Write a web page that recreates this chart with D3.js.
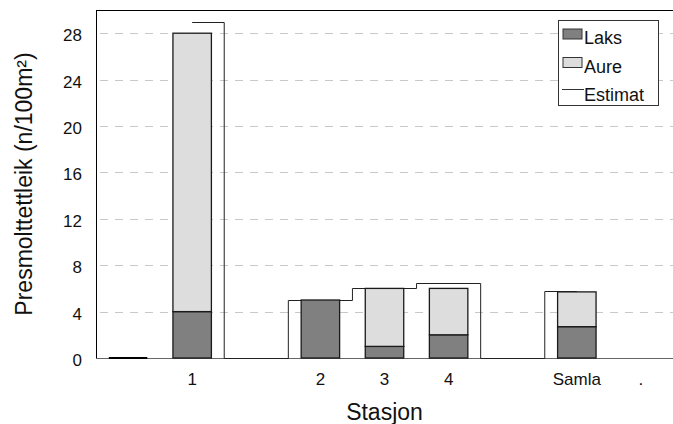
<!DOCTYPE html>
<html>
<head>
<meta charset="utf-8">
<script src="https://cdn.jsdelivr.net/npm/d3@7"></script>
<style>
  body { margin: 0; background: #fff; }
  svg { display: block; font-family: "Liberation Sans", Arial, sans-serif; }
</style>
</head>
<body>
<svg id="chart"></svg>
<script>
const WIDTH = 673;
const HEIGHT = 424;
const LEFT = 96, TOP = 10, RIGHT = 673, BOTTOM = 358;

// chart values
const stations = ["", "1", "", "2", "3", "4", "", "Samla", "."];
const laks     = [0, 4, null, 5, 1, 2, null, 2.7, null];
const aure     = [0, 24, null, 0, 5, 4, null, 3.0, null];
const estimat  = [null, 29, 0, 5, 6, 6.5, 0, 5.8, null];
const yTicks   = [0, 4, 8, 12, 16, 20, 24, 28];

const svg = d3.select("#chart")
    .attr("width", WIDTH)
    .attr("height", HEIGHT);

const x = d3.scaleBand()
    .domain(d3.range(stations.length))
    .range([LEFT, RIGHT])
    .padding(0);

const y = d3.scaleLinear()
    .domain([0, 30])
    .range([BOTTOM, TOP]);

// dashed gridlines
svg.append("g")
    .selectAll("line")
    .data(yTicks.slice(1))
    .enter()
    .append("line")
    .attr("x1", LEFT)
    .attr("x2", RIGHT)
    .attr("y1", d => Math.round(y(d)) + 0.5)
    .attr("y2", d => Math.round(y(d)) + 0.5)
    .attr("stroke", "#c8c8c8")
    .attr("stroke-dasharray", "8,7")
    .attr("stroke-dashoffset", -4);

// frame: left, top and baseline
svg.append("line")
    .attr("x1", LEFT + 0.5).attr("x2", LEFT + 0.5)
    .attr("y1", TOP).attr("y2", BOTTOM)
    .attr("stroke", "#000");
svg.append("line")
    .attr("x1", LEFT).attr("x2", RIGHT)
    .attr("y1", TOP + 0.5).attr("y2", TOP + 0.5)
    .attr("stroke", "#000");
svg.append("line")
    .attr("x1", LEFT).attr("x2", RIGHT)
    .attr("y1", BOTTOM + 0.5).attr("y2", BOTTOM + 0.5)
    .attr("stroke", "#666");

// estimate line, stepped between category centres
const estLine = d3.line()
    .defined(d => d.v !== null)
    .x(d => x(d.i) + x.bandwidth() / 2)
    .y(d => Math.round(y(d.v)) + 0.5)
    .curve(d3.curveStep);

svg.append("path")
    .datum(estimat.map((v, i) => ({i: i, v: v})))
    .attr("d", estLine)
    .attr("fill", "none")
    .attr("stroke", "#222")
    .attr("stroke-width", 1);

// stacked bars
const barW = x.bandwidth() * 0.6;
const bars = svg.append("g");
stations.forEach(function(s, i) {
    if (laks[i] === null) return;
    const bx = x(i) + (x.bandwidth() - barW) / 2;
    if (laks[i] + aure[i] === 0) {
        // zero-height bar shows as its outline
        bars.append("line")
            .attr("x1", bx).attr("x2", bx + barW)
            .attr("y1", y(0)).attr("y2", y(0))
            .attr("stroke", "#000")
            .attr("stroke-width", 2.2);
        return;
    }
    bars.append("rect")
        .attr("x", bx)
        .attr("width", barW)
        .attr("y", y(laks[i]))
        .attr("height", y(0) - y(laks[i]))
        .attr("fill", "#808080")
        .attr("stroke", "#1a1a1a")
        .attr("stroke-width", 1.3);
    if (aure[i] > 0) {
        bars.append("rect")
            .attr("x", bx)
            .attr("width", barW)
            .attr("y", y(laks[i] + aure[i]))
            .attr("height", y(laks[i]) - y(laks[i] + aure[i]))
            .attr("fill", "#dddddd")
            .attr("stroke", "#1a1a1a")
            .attr("stroke-width", 1.3);
    }
});

// y tick labels
svg.append("g")
    .selectAll("text")
    .data(yTicks)
    .enter()
    .append("text")
    .attr("x", 82)
    .attr("y", d => y(d) + 8)
    .attr("text-anchor", "end")
    .attr("font-size", 17)
    .attr("fill", "#111")
    .text(d => d);

// x labels
svg.append("g")
    .selectAll("text")
    .data(stations)
    .enter()
    .append("text")
    .attr("x", (d, i) => x(i) + x.bandwidth() / 2)
    .attr("y", 385)
    .attr("text-anchor", "middle")
    .attr("font-size", 17)
    .attr("fill", "#111")
    .text(d => d);

// axis titles
svg.append("text")
    .attr("transform", "translate(32," + ((TOP + BOTTOM) / 2) + ") rotate(-90)")
    .attr("text-anchor", "middle")
    .attr("font-size", 23)
    .attr("fill", "#111")
    .text("Presmolttettleik (n/100m²)");

svg.append("text")
    .attr("x", (LEFT + RIGHT) / 2)
    .attr("y", 420)
    .attr("text-anchor", "middle")
    .attr("font-size", 23)
    .attr("fill", "#111")
    .text("Stasjon");

// legend
const legend = svg.append("g");
legend.append("rect")
    .attr("x", 558.5).attr("y", 20.5)
    .attr("width", 100).attr("height", 85)
    .attr("fill", "#fff")
    .attr("stroke", "#333");

const legendItems = [
    {name: "Laks", fill: "#808080"},
    {name: "Aure", fill: "#dddddd"},
    {name: "Estimat", fill: null}
];
legendItems.forEach(function(d, i) {
    const cy = 34 + i * 28.5;
    if (d.fill) {
        legend.append("rect")
            .attr("x", 563).attr("y", cy - 5)
            .attr("width", 19).attr("height", 10)
            .attr("fill", d.fill)
            .attr("stroke", "#333");
    } else {
        legend.append("line")
            .attr("x1", 562).attr("x2", 584)
            .attr("y1", 89.5).attr("y2", 89.5)
            .attr("stroke", "#333");
    }
    legend.append("text")
        .attr("x", 584)
        .attr("y", cy + 10)
        .attr("font-size", 18)
        .attr("fill", "#111")
        .text(d.name);
});
</script>
</body>
</html>
